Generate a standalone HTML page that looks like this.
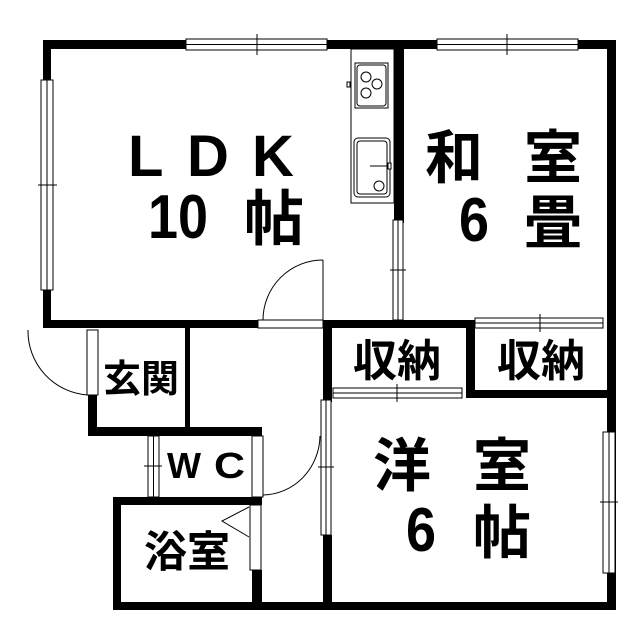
<!DOCTYPE html>
<html><head><meta charset="utf-8"><style>
html,body{margin:0;padding:0;background:#fff;}
svg{display:block;}
text{font-family:"Liberation Sans","Noto Sans CJK JP",sans-serif;fill:#000;font-weight:bold;}
</style></head><body>
<svg width="640" height="640" viewBox="0 0 640 640" xmlns="http://www.w3.org/2000/svg">
<g fill="#000">
<rect x="43" y="40" width="573" height="9"/>
<rect x="43" y="40" width="8" height="288"/>
<rect x="607" y="40" width="9" height="570"/>
<rect x="43" y="320" width="215" height="8"/>
<rect x="323" y="320" width="152" height="8"/>
<rect x="394" y="45" width="10" height="178"/>
<rect x="323" y="320" width="9" height="82"/>
<rect x="466" y="320" width="9" height="78"/>
<rect x="466" y="390" width="150" height="8"/>
<rect x="323" y="535" width="9" height="75"/>
<rect x="88" y="395" width="9" height="41"/>
<rect x="88" y="427" width="174" height="9"/>
<rect x="185" y="328" width="5" height="100"/>
<rect x="113" y="497" width="149" height="8"/>
<rect x="113" y="497" width="8" height="113"/>
<rect x="113" y="602" width="503" height="8"/>
<rect x="252" y="570" width="10" height="36"/>
</g>
<g fill="#fff" stroke="#000" stroke-width="1">
<rect x="186" y="39" width="141" height="11"/>
<line x1="186" y1="44.5" x2="327" y2="44.5"/>
<line x1="257" y1="34" x2="257" y2="55"/>
<rect x="437" y="39" width="141" height="11"/>
<line x1="437" y1="44.5" x2="578" y2="44.5"/>
<line x1="507" y1="34" x2="507" y2="55"/>
<rect x="41" y="80" width="12" height="210"/>
<line x1="47" y1="80" x2="47" y2="290"/>
<line x1="38" y1="185" x2="57" y2="185"/>
<rect x="393" y="220" width="10" height="100"/>
<line x1="398" y1="220" x2="398" y2="320"/>
<line x1="390" y1="270" x2="406" y2="270"/>
<rect x="475" y="318" width="128" height="10"/>
<line x1="475" y1="323" x2="603" y2="323"/>
<line x1="540" y1="314" x2="540" y2="332"/>
<rect x="333" y="388" width="129" height="10"/>
<line x1="333" y1="393" x2="462" y2="393"/>
<line x1="397" y1="384" x2="397" y2="402"/>
<rect x="321" y="400" width="10" height="135"/>
<line x1="326" y1="400" x2="326" y2="535"/>
<line x1="318" y1="467" x2="334" y2="467"/>
<rect x="603" y="432" width="12" height="141"/>
<line x1="609" y1="432" x2="609" y2="573"/>
<line x1="600" y1="502" x2="618" y2="502"/>
<rect x="148" y="436" width="11" height="61"/>
<line x1="153.5" y1="436" x2="153.5" y2="497"/>
<line x1="144" y1="466" x2="162" y2="466"/>
<rect x="258" y="320" width="65" height="8"/>
<line x1="323" y1="260" x2="323" y2="320"/>
<path d="M323 260 A60 60 0 0 0 263 320" fill="none"/>
<rect x="87" y="330" width="11" height="65"/>
<path d="M28 330 A64 64 0 0 0 88 395" fill="none"/>
<rect x="252" y="436" width="11" height="61"/>
<path d="M320 436 A58 60 0 0 1 263 495" fill="none"/>
<rect x="250" y="505" width="11" height="65"/>
<polyline points="249,507 222,521 249,537" fill="none"/>
<rect x="351" y="49" width="43" height="154"/>
<rect x="355" y="63" width="33" height="45"/>
<rect x="357" y="65" width="29" height="41" rx="3"/>
<circle cx="366" cy="77" r="5"/>
<circle cx="377" cy="84" r="5"/>
<circle cx="366" cy="93" r="5"/>
<rect x="347" y="82" width="3" height="5"/>
<rect x="354" y="138" width="36" height="59" rx="4"/>
<rect x="357" y="141" width="30" height="53" rx="3"/>
<line x1="370" y1="166" x2="389" y2="166"/>
<rect x="388" y="163" width="3" height="6"/>
<circle cx="379" cy="186" r="5"/>
</g>
<text x="128" y="176" font-size="58">L</text>
<text x="187" y="176" font-size="58">D</text>
<text x="252" y="176" font-size="58">K</text>
<text x="148" y="238" font-size="62" textLength="60" lengthAdjust="spacingAndGlyphs">10</text>
<text x="244" y="240" font-size="60">帖</text>
<text x="425" y="178" font-size="58">和</text>
<text x="524" y="178" font-size="58">室</text>
<text x="459" y="241" font-size="62" textLength="30" lengthAdjust="spacingAndGlyphs">6</text>
<text x="524" y="243" font-size="58">畳</text>
<text x="353" y="376" font-size="44">収納</text>
<text x="497" y="376" font-size="44">収納</text>
<text x="103" y="392" font-size="38">玄関</text>
<text x="167" y="478" font-size="36" textLength="34" lengthAdjust="spacingAndGlyphs">W</text>
<text x="214" y="478" font-size="36" textLength="31" lengthAdjust="spacingAndGlyphs">C</text>
<text x="144" y="567" font-size="43">浴室</text>
<text x="373" y="486" font-size="58">洋</text>
<text x="473" y="486" font-size="58">室</text>
<text x="406" y="551" font-size="62" textLength="30" lengthAdjust="spacingAndGlyphs">6</text>
<text x="473" y="553" font-size="58">帖</text>
</svg>
</body></html>
